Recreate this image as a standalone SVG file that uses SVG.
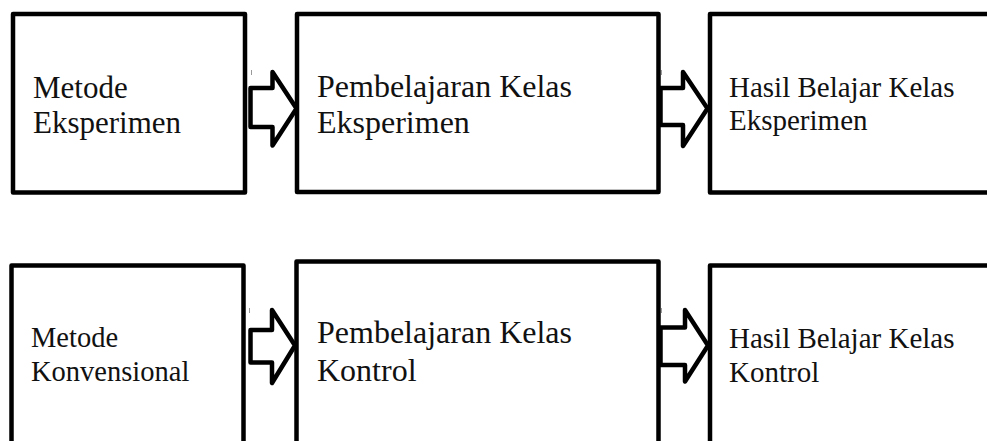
<svg xmlns="http://www.w3.org/2000/svg" width="987" height="441" viewBox="0 0 987 441">
  <style>
    .box { fill: #ffffff; stroke: #000000; stroke-width: 4.5; stroke-linejoin: round; }
    .arrow { fill: #ffffff; stroke: #000000; stroke-width: 4.5; stroke-linejoin: round; }
    .tick { stroke: #9a9a9a; stroke-width: 1; }
    text { font-family: "Liberation Serif", "Times New Roman", serif; fill: #111111; }
  </style>
  <rect width="987" height="441" fill="#ffffff"/>

  <!-- top row -->
  <g id="metode-eksperimen">
    <rect class="box" x="13" y="14" width="232" height="178.5"/>
    <text x="33" y="97.7" font-size="31">Metode</text>
    <text x="33" y="133" font-size="31">Eksperimen</text>
  </g>
  <g id="pembelajaran-eksperimen">
    <rect class="box" x="297" y="14" width="361.5" height="178"/>
    <text x="317" y="96.7" font-size="32">Pembelajaran Kelas</text>
    <text x="317" y="132.7" font-size="32">Eksperimen</text>
  </g>
  <g id="hasil-eksperimen">
    <rect class="box" x="710" y="14" width="300" height="178.5"/>
    <text x="729" y="96.7" font-size="29">Hasil Belajar Kelas</text>
    <text x="729" y="130" font-size="29">Eksperimen</text>
  </g>

  <!-- bottom row -->
  <g id="metode-konvensional">
    <rect class="box" x="11.5" y="265.5" width="232" height="200"/>
    <text x="31" y="346.7" font-size="28.5">Metode</text>
    <text x="31" y="381" font-size="28.5">Konvensional</text>
  </g>
  <g id="pembelajaran-kontrol">
    <rect class="box" x="296.5" y="261.5" width="362" height="200"/>
    <text x="317" y="343.3" font-size="32">Pembelajaran Kelas</text>
    <text x="317" y="380.7" font-size="32">Kontrol</text>
  </g>
  <g id="hasil-kontrol">
    <rect class="box" x="710" y="265.5" width="300" height="200"/>
    <text x="729" y="348" font-size="29">Hasil Belajar Kelas</text>
    <text x="729" y="381.7" font-size="29">Kontrol</text>
  </g>

  <!-- block arrows between the stages -->
  <g id="connectors">
    <path class="arrow" d="M250.5,88 L272.5,88 L272.5,72 L296.5,108.5 L272.5,145.5 L272.5,127 L250.5,127 Z"/>
    <path class="arrow" d="M660.5,88 L683,88 L683,72 L707.5,108.5 L683,146 L683,125 L660.5,125 Z"/>
    <path class="arrow" d="M250.5,330 L272,330 L272,310 L295,345.5 L272,383 L272,362.5 L250.5,362.5 Z"/>
    <path class="arrow" d="M660.5,327.5 L685,327.5 L685,310 L708,345.5 L685,381.5 L685,365 L660.5,365 Z"/>
    <line class="tick" x1="251.5" y1="70" x2="251.5" y2="75"/>
    <line class="tick" x1="661.5" y1="70" x2="661.5" y2="75"/>
    <line class="tick" x1="249.5" y1="308" x2="249.5" y2="313"/>
    <line class="tick" x1="661.5" y1="308" x2="661.5" y2="313"/>
  </g>
</svg>
